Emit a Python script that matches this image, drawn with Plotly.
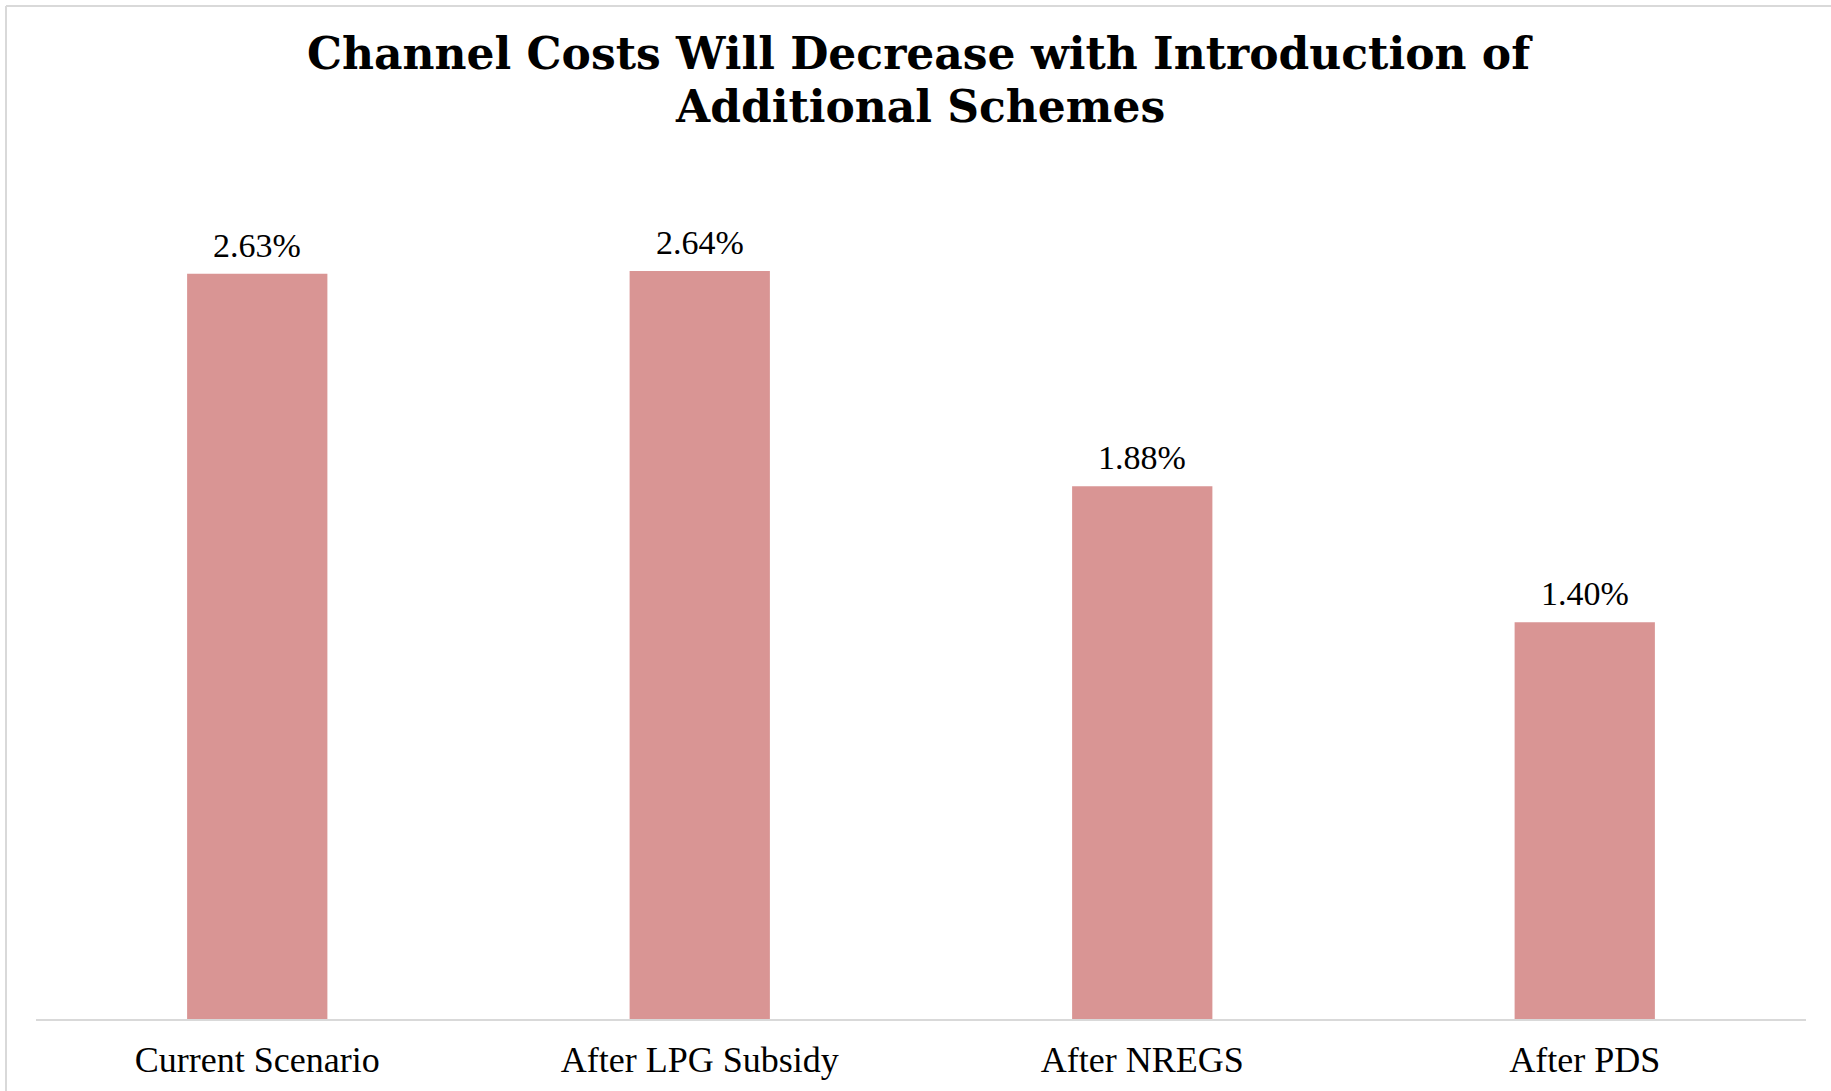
import plotly.graph_objects as go

categories = ["Current Scenario", "After LPG Subsidy", "After NREGS", "After PDS"]
values = [2.63, 2.64, 1.88, 1.40]
labels = ["2.63%", "2.64%", "1.88%", "1.40%"]
title_lines = ["Channel Costs Will Decrease with Introduction of", "Additional Schemes"]

W, H = 1831, 1091
L, R, T, B = 36, 25, 169, 72

FONT = "Liberation Serif"
TFONT = "DejaVu Serif"
BAR = "#D99594"
GRID = "#D9D9D9"

fig = go.Figure(go.Bar(
    x=categories, y=values,
    marker=dict(color=BAR, line=dict(width=0)),
    hoverinfo="skip",
))

pw = W - L - R
ph = H - T - B

annotations = []
for c, v, t in zip(categories, values, labels):
    annotations.append(dict(x=c, y=v, xref="x", yref="y", text=t, showarrow=False,
                            yanchor="bottom", yshift=8,
                            font=dict(family=FONT, size=34, color="#000000")))
title_centers = [53, 107]
for line, cy in zip(title_lines, title_centers):
    annotations.append(dict(x=(920 - L) / pw, y=(H - cy - B) / ph, xref="paper", yref="paper",
                            text="<b>" + line + "</b>", showarrow=False,
                            xanchor="center", yanchor="middle",
                            font=dict(family=TFONT, size=44, color="#000000")))

fig.update_layout(
    width=W, height=H,
    margin=dict(l=L, r=R, t=T, b=B, pad=0),
    paper_bgcolor="white", plot_bgcolor="white",
    bargap=0.683,
    showlegend=False,
    annotations=annotations,
    xaxis=dict(showline=True, linecolor=GRID, linewidth=2, showgrid=False,
               ticks="outside", ticklen=8, tickcolor="rgba(0,0,0,0)",
               tickfont=dict(family=FONT, size=36, color="#000000"),
               zeroline=False),
    yaxis=dict(range=[0, 3.0], visible=False, showgrid=False, zeroline=False),
    shapes=[
        dict(type="line", xref="paper", yref="paper",
             x0=(6 - L) / pw, x1=(W + 5 - L) / pw,
             y0=(H - 6 - B) / ph, y1=(H - 6 - B) / ph,
             line=dict(color=GRID, width=2)),
        dict(type="line", xref="paper", yref="paper",
             x0=(6 - L) / pw, x1=(6 - L) / pw,
             y0=(H - 6 - B) / ph, y1=(-10 - B) / ph,
             line=dict(color=GRID, width=2)),
    ],
)

fig.write_html("out.html")
